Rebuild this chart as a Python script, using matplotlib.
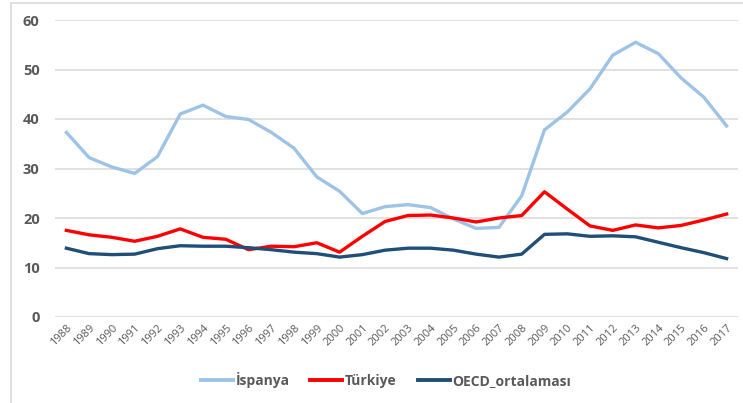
import matplotlib
matplotlib.use("Agg")
import matplotlib.pyplot as plt
from matplotlib.patches import Rectangle

years = [str(y) for y in range(1988, 2018)]
ispanya = [37.3, 32.2, 30.3, 29.0, 32.4, 41.0, 42.8, 40.5, 39.9, 37.3, 34.1, 28.3, 25.4, 20.9, 22.3,
           22.7, 22.1, 19.8, 17.9, 18.1, 24.5, 37.8, 41.4, 46.1, 52.9, 55.5, 53.2, 48.3, 44.4, 38.6]
turkiye = [17.5, 16.6, 16.1, 15.3, 16.3, 17.8, 16.1, 15.7, 13.6, 14.3, 14.2, 15.0, 13.1, 16.3, 19.3,
           20.5, 20.6, 20.0, 19.2, 20.0, 20.5, 25.3, 21.8, 18.4, 17.5, 18.6, 18.0, 18.5, 19.6, 20.8]
oecd = [13.9, 12.8, 12.6, 12.7, 13.8, 14.4, 14.3, 14.3, 14.0, 13.6, 13.1, 12.8, 12.1, 12.6, 13.5,
        13.9, 13.9, 13.5, 12.7, 12.1, 12.7, 16.7, 16.8, 16.3, 16.4, 16.2, 15.1, 14.0, 13.0, 11.8]
series_names = ["İspanya", "Türkiye", "OECD_ortalaması"]
yticks = [0, 10, 20, 30, 40, 50, 60]

W, H = 743, 403
fig = plt.figure(figsize=(W / 100, H / 100), dpi=100)
fig.patch.set_facecolor("white")

# outer frame
fig.patches.append(Rectangle((11 / W, -0.1), 1.2, 1 - 3 / H + 0.1, transform=fig.transFigure,
                             fill=False, edgecolor="#D9D9D9", linewidth=1.2))

ax = fig.add_axes([55 / W, 1 - 317 / H, (738 - 55) / W, (317 - 20) / H])
x = list(range(len(years)))
ax.plot(x, ispanya, color="#9DC3E6", lw=2.4, label=series_names[0], solid_joinstyle="round")
ax.plot(x, turkiye, color="#FF0000", lw=2.4, label=series_names[1], solid_joinstyle="round")
ax.plot(x, oecd, color="#1F4E79", lw=2.4, label=series_names[2], solid_joinstyle="round")

ax.set_xlim(-0.5, len(years) - 0.5)
ax.set_ylim(0, 60)
ax.set_yticks(yticks)
ax.set_yticklabels([str(t) for t in yticks], fontsize=10.5, fontweight="bold", color="#595959",
                   family="Open Sans")
ax.set_xticks(x)
ax.set_xticklabels(years, rotation=45, ha="right", rotation_mode="anchor", fontsize=8,
                   color="#595959", family="Open Sans")
ax.tick_params(axis="both", length=0)
ax.tick_params(axis="y", pad=11)
ax.tick_params(axis="x", pad=4)
ax.grid(axis="y", color="#D9D9D9", lw=1.1)
ax.set_axisbelow(True)
for s in ax.spines.values():
    s.set_visible(False)

leg = fig.legend(loc="center", bbox_to_anchor=(386 / W, 1 - 380 / H), ncol=3, frameon=False,
                 handlelength=2.3, columnspacing=1.5, handletextpad=0.2,
                 prop={"family": "Open Sans", "weight": "bold", "size": 10})
for t in leg.get_texts():
    t.set_color("#595959")
for l in leg.get_lines():
    l.set_linewidth(2.8)

fig.savefig("out.png", dpi=100, facecolor="white")
